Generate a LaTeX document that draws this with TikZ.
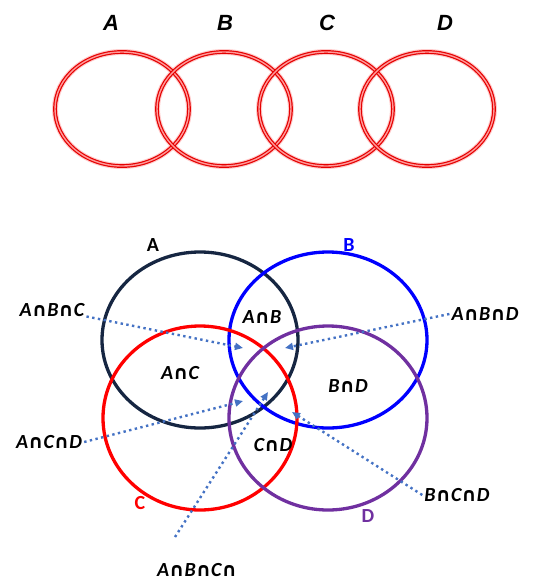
\documentclass[tikz,border=0pt]{standalone}
\usepackage{fontspec}
\usetikzlibrary{arrows.meta}
\setmainfont{Liberation Sans}
\newfontfamily\calfont{Carlito}
\newfontfamily\symfont{DejaVu Sans}
\newcommand\inter{{\symfont\bfseries\itshape\scalebox{0.95}{∩}}}
\definecolor{navyA}{RGB}{22,38,66}
\definecolor{blueB}{RGB}{0,0,255}
\definecolor{redC}{RGB}{255,0,0}
\definecolor{purpleD}{RGB}{112,48,160}
\definecolor{pointer}{RGB}{68,114,196}
\tikzset{
  ring/.style={draw=red!90!black, line width=1.2pt, double=red!40, double distance=1.4pt},
  halo/.style={draw=red!20, line width=6pt},
  toplabel/.style={font=\fontsize{22}{22}\selectfont\bfseries\itshape, inner sep=0pt},
  setlabel/.style={font=\calfont\fontsize{20}{20}\selectfont\bfseries, inner sep=0pt},
  region/.style={font=\calfont\fontsize{20}{20}\selectfont\bfseries\itshape, inner sep=0pt},
  setcircle/.style={line width=3.3pt},
  pointerline/.style={draw=pointer, line width=2.4pt, dash pattern=on 2.4pt off 3.4pt,
    -{Triangle[length=8pt,width=7pt,fill=pointer]}},
}
\begin{document}
\begin{tikzpicture}[x=1pt,y=-1pt]
\useasboundingbox (0,0) rectangle (553,582);

% chain of four overlapping rings
\foreach \cx in {122,224,326,427}{
  \draw[halo] (\cx,109) ellipse [x radius=67, y radius=57];
}
\foreach \cx in {122,224,326,427}{
  \draw[ring] (\cx,109) ellipse [x radius=67, y radius=57];
}
\node[toplabel] (tA) at (111,23) {A};
\node[toplabel] (tB) at (225,23) {B};
\node[toplabel] (tC) at (327,23) {C};
\node[toplabel] (tD) at (445,23) {D};

% four-set diagram
\draw[setcircle, navyA]   (200,340) ellipse [x radius=98, y radius=88];
\draw[setcircle, blueB]   (328,340) ellipse [x radius=99, y radius=88];
\draw[setcircle, redC]    (200,418) ellipse [x radius=97, y radius=92];
\draw[setcircle, purpleD] (328,418) ellipse [x radius=99, y radius=92];

\node[setlabel, text=black]   (lA) at (153,245) {A};
\node[setlabel, text=blueB]   (lB) at (349,245) {B};
\node[setlabel, text=redC]    (lC) at (140,503) {C};
\node[setlabel, text=purpleD] (lD) at (368,516) {D};

% regions inside the diagram
\node[region] (rab) at (262,317) {A\inter B};
\node[region] (rac) at (180,373) {A\inter C};
\node[region] (rbd) at (348,386) {B\inter D};
\node[region] (rcd) at (273,445) {C\inter D};

% triple and quadruple intersections outside
\node[region, inner sep=2pt] (abc)  at (52,310)  {A\inter B\inter C};
\node[region, inner sep=2pt] (abd)  at (485,314) {A\inter B\inter D};
\node[region, inner sep=2pt] (acd)  at (49,442)  {A\inter C\inter D};
\node[region, inner sep=2pt] (bcd)  at (457,495) {B\inter C\inter D};
\node[region, inner sep=2pt] (abcd) at (197,570) {A\inter B\inter C\inter};

\coordinate (pabc)  at (243,348);
\coordinate (pabd)  at (285,348);
\coordinate (pacd)  at (243,401);
\coordinate (pabcd) at (268,392);
\coordinate (pbcd)  at (292,412);
\coordinate (sabcd) at (175,537);

\draw[pointerline] (abc.base east) -- (pabc);
\draw[pointerline] (abd.west) -- (pabd);
\draw[pointerline] (acd.east) -- (pacd);
\draw[pointerline] (sabcd) -- (pabcd);
\draw[pointerline] (bcd.west) -- (pbcd);
\end{tikzpicture}
\end{document}
